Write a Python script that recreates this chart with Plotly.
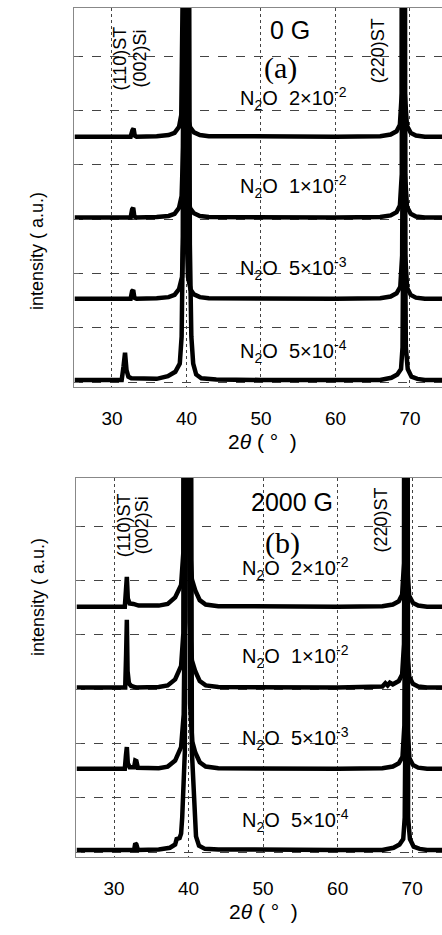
import plotly.graph_objects as go

# ---------------- data (2theta in degrees, intensity in a.u. relative to each baseline) -------------
labels = ["N<sub>2</sub>O  2×10<sup>-2</sup>", "N<sub>2</sub>O  1×10<sup>-2</sup>",
          "N<sub>2</sub>O  5×10<sup>-3</sup>", "N<sub>2</sub>O  5×10<sup>-4</sup>"]
offsets = [4.52, 3.03, 1.535, 0.04]
x_ticks = [30, 40, 50, 60, 70]

# Panel (a): 0 G
a_2e2_x = [25, 32.5, 32.75, 32.9, 33.05, 33.3, 36, 37.6, 38.4, 39.0, 39.3, 39.5, 39.6, 39.7, 39.8, 39.9, 40.1, 40.5, 41.0, 41.8, 43, 50, 60, 66, 67.4, 68.2, 68.65, 68.9, 69.0, 69.1, 69.2, 69.3, 69.6, 70.1, 70.8, 72, 75]
a_2e2_y = [0, 0, 0.12, 0.15, 0.02, 0, 0.01, 0.03, 0.07, 0.18, 0.4, 1.3, 4, 30, 4, 1.3, 0.4, 0.17, 0.08, 0.03, 0.01, 0, 0, 0.01, 0.04, 0.1, 0.22, 0.8, 4, 30, 4, 0.8, 0.2, 0.07, 0.02, 0, 0]

a_1e2_x = [25, 32.5, 32.7, 32.85, 33.0, 33.3, 36, 37.6, 38.4, 39.0, 39.35, 39.55, 39.65, 39.75, 39.85, 39.95, 40.15, 40.5, 41.0, 41.8, 43, 50, 60, 66, 67.4, 68.2, 68.65, 68.9, 69.02, 69.12, 69.22, 69.34, 69.6, 70.1, 70.8, 72, 75]
a_1e2_y = [0, 0, 0.15, 0.18, 0.02, 0, 0.01, 0.03, 0.07, 0.18, 0.4, 1.3, 4, 30, 4, 1.3, 0.4, 0.17, 0.08, 0.03, 0.01, 0, 0, 0.01, 0.04, 0.1, 0.22, 0.8, 4, 30, 4, 0.8, 0.2, 0.07, 0.02, 0, 0]

a_5e3_x = [25, 32.5, 32.7, 32.85, 33.0, 33.3, 36, 37.6, 38.4, 39.0, 39.4, 39.6, 39.7, 39.8, 39.9, 40.0, 40.2, 40.55, 41.0, 41.8, 43, 50, 60, 66, 67.4, 68.2, 68.7, 68.95, 69.05, 69.15, 69.25, 69.37, 69.62, 70.1, 70.8, 72, 75]
a_5e3_y = [0, 0, 0.14, 0.16, 0.02, 0, 0.01, 0.03, 0.07, 0.18, 0.4, 1.3, 4, 30, 4, 1.3, 0.4, 0.17, 0.08, 0.03, 0.01, 0, 0, 0.01, 0.04, 0.1, 0.22, 0.8, 4, 30, 4, 0.8, 0.2, 0.07, 0.02, 0, 0]

a_5e4_x = [25, 31.3, 31.55, 31.75, 31.95, 32.2, 32.6, 36, 37.5, 38.5, 39.1, 39.35, 39.5, 39.95, 40.45, 40.65, 40.9, 41.3, 42, 44, 50, 60, 66, 67.5, 68.3, 68.8, 69.0, 69.12, 69.22, 69.32, 69.45, 69.7, 70.2, 71, 72, 75]
a_5e4_y = [0, 0, 0.25, 0.5, 0.18, 0.06, 0.03, 0.02, 0.07, 0.15, 0.3, 0.8, 2.5, 30, 2.5, 0.8, 0.3, 0.1, 0.03, 0.01, 0, 0, 0, 0.04, 0.1, 0.2, 0.6, 3, 30, 3, 0.6, 0.2, 0.06, 0.02, 0, 0]

# Panel (b): 2000 G
b_2e2_x = [25, 31.45, 31.6, 31.72, 31.85, 32.1, 32.6, 33.3, 36, 37.2, 38.2, 39.0, 39.3, 39.42, 39.75, 40.08, 40.15, 40.45, 40.9, 41.5, 42.3, 44, 50, 60, 66, 67.4, 68.2, 68.65, 68.9, 69.0, 69.1, 69.2, 69.3, 69.6, 70.1, 70.8, 72, 75]
b_2e2_y = [0, 0, 0.3, 0.55, 0.15, 0.06, 0.05, 0.02, 0.02, 0.05, 0.17, 0.4, 1.0, 3, 30, 3, 1.2, 0.5, 0.3, 0.12, 0.04, 0.01, 0, 0, 0.01, 0.04, 0.1, 0.22, 0.8, 4, 30, 4, 0.8, 0.2, 0.07, 0.02, 0, 0]

b_1e2_x = [25, 31.5, 31.62, 31.72, 31.82, 32.0, 32.3, 33, 36, 37.2, 38.2, 39.0, 39.3, 39.42, 39.75, 40.08, 40.15, 40.45, 40.9, 41.5, 42.3, 44, 50, 60, 66, 66.4, 66.7, 67.0, 67.4, 68.2, 68.65, 68.9, 69.0, 69.1, 69.2, 69.3, 69.6, 70.1, 70.8, 72, 75]
b_1e2_y = [0, 0, 0.6, 1.25, 0.3, 0.08, 0.03, 0, 0.01, 0.04, 0.15, 0.4, 1.0, 3, 30, 3, 1.2, 0.5, 0.3, 0.12, 0.04, 0.01, 0, 0, 0.02, 0.08, 0.04, 0.09, 0.06, 0.12, 0.24, 0.8, 4, 30, 4, 0.8, 0.2, 0.07, 0.02, 0, 0]

b_5e3_x = [25, 31.45, 31.6, 31.72, 31.85, 32.1, 32.7, 32.85, 33.0, 33.2, 36, 37.2, 38.2, 39.0, 39.35, 39.5, 39.8, 40.1, 40.2, 40.5, 40.9, 41.5, 42.3, 44, 50, 60, 66, 67.4, 68.2, 68.7, 68.95, 69.05, 69.15, 69.25, 69.37, 69.62, 70.1, 70.8, 72, 75]
b_5e3_y = [0, 0, 0.25, 0.4, 0.1, 0.03, 0.03, 0.15, 0.14, 0.02, 0.01, 0.04, 0.15, 0.4, 1.0, 3, 30, 3, 1.2, 0.5, 0.3, 0.12, 0.04, 0.01, 0, 0, 0.01, 0.04, 0.1, 0.22, 0.8, 4, 30, 4, 0.8, 0.2, 0.07, 0.02, 0, 0]

b_5e4_x = [25, 32.7, 32.85, 33.0, 33.2, 36, 37.5, 38.2, 38.4, 38.8, 39.0, 39.15, 39.5, 39.95, 40.45, 40.8, 41.0, 41.4, 42.2, 44, 50, 60, 66, 67.5, 68.3, 68.8, 69.0, 69.13, 69.23, 69.33, 69.45, 69.7, 70.2, 71, 72, 75]
b_5e4_y = [0, 0, 0.12, 0.1, 0, 0.01, 0.04, 0.1, 0.2, 0.22, 0.3, 0.6, 1.8, 30, 1.8, 0.6, 0.25, 0.08, 0.02, 0.01, 0, 0, 0, 0.04, 0.1, 0.2, 0.6, 3, 30, 3, 0.6, 0.2, 0.06, 0.02, 0, 0]

panel_a = [(a_2e2_x, a_2e2_y), (a_1e2_x, a_1e2_y), (a_5e3_x, a_5e3_y), (a_5e4_x, a_5e4_y)]
panel_b = [(b_2e2_x, b_2e2_y), (b_1e2_x, b_1e2_y), (b_5e3_x, b_5e3_y), (b_5e4_x, b_5e4_y)]

# ---------------- figure -------------
W, H = 442, 935
SANS = "Liberation Sans, Arial, sans-serif"
SERIF = "Liberation Serif, Times New Roman, serif"

fig = go.Figure()
for panel, xa, ya in [(panel_a, "x", "y"), (panel_b, "x2", "y2")]:
    for (xs, ys), off in zip(panel, offsets):
        fig.add_trace(go.Scatter(x=xs, y=[v + off for v in ys], mode="lines",
                                 line=dict(color="black", width=4.5),
                                 xaxis=xa, yaxis=ya, showlegend=False, hoverinfo="skip"))

def px_y(p):
    return 1 - p / H

xcommon = dict(tickvals=x_ticks, ticktext=[str(t) for t in x_ticks], showgrid=True,
               gridcolor="#444", gridwidth=1, griddash="dot", showline=True, mirror=True,
               linecolor="#888", linewidth=1, ticks="", zeroline=False,
               tickfont=dict(family=SANS, size=19, color="black"), ticklabelstandoff=14)
ycommon = dict(range=[-0.09, 6.89], dtick=1, tick0=0, showgrid=True, gridcolor="#444",
               gridwidth=1, griddash="dash", showline=True, mirror=False, linecolor="#888",
               linewidth=1, ticks="inside", ticklen=5, tickcolor="#666",
               showticklabels=False, zeroline=False)

fig.update_layout(
    width=W, height=H, margin=dict(l=0, r=0, t=0, b=0),
    paper_bgcolor="white", plot_bgcolor="white", showlegend=False,
    xaxis=dict(domain=[74 / W, 1], range=[24.9, 74.3], anchor="y", **xcommon),
    yaxis=dict(domain=[px_y(387), px_y(8)], anchor="x", **ycommon),
    xaxis2=dict(domain=[76 / W, 1], range=[24.9, 74.0], anchor="y2", **xcommon),
    yaxis2=dict(domain=[px_y(857), px_y(478)], anchor="x2", **ycommon),
)

ann = []
for xr, yr, head, tag, hy, ty, lab_y, hkl in [
    ("x", "y", "0 G", "(a)", 6.48, 5.78, [5.23, 3.60, 2.09, 0.56], (31.2, 33.76, 5.96, 65.7, 6.11)),
    ("x2", "y2", "2000 G", "(b)", 6.44, 5.69, [5.23, 3.60, 2.09, 0.58], (31.34, 33.76, 6.02, 65.84, 6.11)),
]:
    ann.append(dict(x=53.9, y=hy, xref=xr, yref=yr, text=head, showarrow=False,
                    font=dict(family=SANS, size=25, color="black")))
    ann.append(dict(x=52.6, y=ty, xref=xr, yref=yr, text=tag, showarrow=False,
                    font=dict(family=SERIF, size=30, color="black")))
    for lab, ly in zip(labels, lab_y):
        ann.append(dict(x=54.3, y=ly, xref=xr, yref=yr, text=lab, showarrow=False,
                        font=dict(family=SANS, size=20, color="black")))
    ann.append(dict(x=hkl[0], y=hkl[2], xref=xr, yref=yr, text="(110)ST", textangle=-90,
                    showarrow=False, font=dict(family=SANS, size=18, color="black")))
    ann.append(dict(x=hkl[1], y=hkl[2], xref=xr, yref=yr, text="(002)Si", textangle=-90,
                    showarrow=False, font=dict(family=SANS, size=18, color="black")))
    ann.append(dict(x=hkl[3], y=hkl[4], xref=xr, yref=yr, text="(220)ST", textangle=-90,
                    showarrow=False, font=dict(family=SANS, size=18, color="black")))

for cx, cy in [(262, 442), (263, 925)]:
    ann.append(dict(x=cx / W, y=px_y(cy), xref="paper", yref="paper", text="2<i>θ</i> ( °  )",
                    showarrow=False, font=dict(family=SANS, size=21, color="black")))
for cx, cy in [(25, 190), (26, 658)]:
    ann.append(dict(x=cx / W, y=px_y(cy), xref="paper", yref="paper", text="intensity ( a.u.)",
                    textangle=-90, showarrow=False, font=dict(family=SANS, size=18, color="black")))

fig.update_layout(annotations=ann)
fig.write_html("out.html", config={"displayModeBar": False},
               post_script="document.body.style.margin='0';document.body.style.overflow='hidden';")
